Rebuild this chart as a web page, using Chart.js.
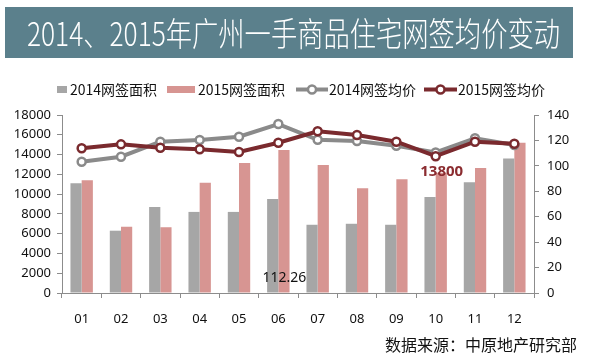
<!DOCTYPE html>
<html>
<head>
<meta charset="utf-8">
<script src="https://cdn.jsdelivr.net/npm/chart.js@4/dist/chart.umd.min.js"></script>
<style>
html,body{margin:0;padding:0;background:#fff;}
#wrap{position:relative;width:593px;height:353px;}
</style>
</head>
<body>
<div id="wrap"><canvas id="c" width="593" height="353"></canvas></div>
<script>
// ---- data ----
const titleText = '2014、2015年广州一手商品住宅网签均价变动';
const sourceText = '数据来源：中原地产研究部';
const months = ['01','02','03','04','05','06','07','08','09','10','11','12'];
const area2014 = [11100, 6300, 8700, 8200, 8200, 9500, 6900, 7000, 6900, 9700, 11200, 13600];
const area2015 = [11400, 6700, 6650, 11150, 13150, 14450, 12950, 10600, 11500, 12150, 12650, 15200];
const price2014 = [103.2, 107.2, 119.0, 120.3, 122.9, 132.9, 120.5, 119.5, 115.8, 110.6, 121.7, 116.4];
const price2015 = [113.8, 116.9, 114.3, 113.0, 110.9, 118.2, 127.2, 124.3, 119.0, 107.6, 119.0, 117.4];
const seriesNames = ['2014网签面积','2015网签面积','2014网签均价','2015网签均价'];
const leftTicks = {min:0, max:18000, step:2000};
const rightTicks = {min:0, max:140, step:20};
// annotation texts: [text, month index, left-axis value]
const noteLabels = [['112.26', 5, 1500], ['13800', 9, 12250]];

const FONT = '"Noto Sans", "Liberation Sans", sans-serif';
const CJK = '"Noto Sans CJK SC", "Noto Sans", sans-serif';
const C_GRAY_BAR = '#a6a6a6';
const C_PINK_BAR = '#d79592';
const C_GRAY_LINE = '#8a8a8a';
const C_RED_LINE = '#7a2a2e';
const C_AXIS = '#8c8c8c';

const decor = {
  id: 'decor',
  beforeDraw(chart) {
    const ctx = chart.ctx;
    ctx.save();
    ctx.fillStyle = '#ffffff';
    ctx.fillRect(0, 0, chart.width, chart.height);
    // title banner
    ctx.fillStyle = '#5b808c';
    ctx.fillRect(5, 7, 568, 51);
    ctx.fillStyle = '#ffffff';
    ctx.font = '300 33px ' + CJK;
    ctx.textBaseline = 'middle';
    ctx.textAlign = 'left';
    const w = ctx.measureText(titleText).width;
    ctx.translate(27, 33);
    ctx.scale(533 / w, 1);
    ctx.fillText(titleText, 0, 0);
    ctx.restore();
  },
  afterDraw(chart) {
    const ctx = chart.ctx;
    const ds = chart.data.datasets;
    ctx.save();
    // legend
    const cy = 89.5;
    const items = [
      {sx:57, sw:10, tx:70, kind:'bar'},
      {sx:167, sw:28, tx:198, kind:'bar'},
      {sx:296, sw:32, tx:329, kind:'line'},
      {sx:424, sw:33, tx:458, kind:'line'}
    ];
    ctx.font = '14px ' + CJK;
    ctx.textBaseline = 'middle';
    ctx.textAlign = 'left';
    items.forEach((it, i) => {
      const d = ds[i];
      if (it.kind === 'bar') {
        ctx.fillStyle = d.backgroundColor;
        ctx.fillRect(it.sx, cy - 3.5, it.sw, 7);
      } else {
        ctx.strokeStyle = d.borderColor;
        ctx.lineWidth = 4;
        ctx.beginPath();
        ctx.moveTo(it.sx, cy);
        ctx.lineTo(it.sx + it.sw, cy);
        ctx.stroke();
        ctx.beginPath();
        ctx.arc(it.sx + it.sw / 2, cy, 4, 0, Math.PI * 2);
        ctx.fillStyle = '#fff';
        ctx.fill();
        ctx.lineWidth = 2.5;
        ctx.stroke();
      }
      ctx.fillStyle = '#111';
      ctx.fillText(d.label, it.tx, cy);
    });
    // annotations
    const xs = chart.scales.x, yl = chart.scales.yL;
    noteLabels.forEach((n, i) => {
      const x = xs.getPixelForValue(n[1]) + 6;
      const y = yl.getPixelForValue(n[2]);
      ctx.textAlign = 'center';
      if (i === 0) { ctx.font = '14px ' + FONT; ctx.fillStyle = '#111'; }
      else { ctx.font = 'bold 15px ' + FONT; ctx.fillStyle = '#8b2c30'; }
      ctx.fillText(n[0], x, y);
    });
    // source
    ctx.font = '16px ' + CJK;
    ctx.fillStyle = '#111';
    ctx.textAlign = 'right';
    ctx.fillText(sourceText, 577, 345);
    ctx.restore();
  }
};

new Chart(document.getElementById('c'), {
  data: {
    labels: months,
    datasets: [
      {type:'bar', label:seriesNames[0], data:area2014, backgroundColor:C_GRAY_BAR, yAxisID:'yL', order:3, barPercentage:1, categoryPercentage:0.57},
      {type:'bar', label:seriesNames[1], data:area2015, backgroundColor:C_PINK_BAR, yAxisID:'yL', order:3, barPercentage:1, categoryPercentage:0.57},
      {type:'line', label:seriesNames[2], data:price2014, borderColor:C_GRAY_LINE, backgroundColor:'#fff', borderWidth:4, pointRadius:4, pointBorderWidth:2.5, pointBackgroundColor:'#fff', pointBorderColor:C_GRAY_LINE, yAxisID:'yR', order:2, tension:0},
      {type:'line', label:seriesNames[3], data:price2015, borderColor:C_RED_LINE, backgroundColor:'#fff', borderWidth:4, pointRadius:4, pointBorderWidth:2.5, pointBackgroundColor:'#fff', pointBorderColor:C_RED_LINE, yAxisID:'yR', order:1, tension:0}
    ]
  },
  options: {
    responsive:false,
    animation:false,
    devicePixelRatio:1,
    layout:{padding:{top:115, left:0, right:0, bottom:0}},
    plugins:{legend:{display:false}, title:{display:false}, tooltip:{enabled:false}},
    scales:{
      x:{
        offset:true,
        grid:{offset:true, drawOnChartArea:false, tickLength:5, color:C_AXIS, lineWidth:1},
        border:{color:C_AXIS, width:1},
        ticks:{color:'#111', font:{size:13, family:FONT}, padding:13, maxRotation:0},
        afterFit(s){ s.height = 60; }
      },
      yL:{
        position:'left', min:leftTicks.min, max:leftTicks.max,
        grid:{drawOnChartArea:false, tickLength:5, color:C_AXIS},
        border:{color:C_AXIS, width:1},
        ticks:{stepSize:leftTicks.step, color:'#111', font:{size:13, family:FONT}, padding:6, callback:(v)=>String(v)},
        afterFit(s){ s.width = 62; }
      },
      yR:{
        position:'right', min:rightTicks.min, max:rightTicks.max,
        grid:{drawOnChartArea:false, tickLength:5, color:C_AXIS},
        border:{color:C_AXIS, width:1},
        ticks:{stepSize:rightTicks.step, color:'#111', font:{size:13, family:FONT}, padding:8, callback:(v)=>String(v)},
        afterFit(s){ s.width = 59; }
      }
    }
  },
  plugins:[decor]
});
</script>
</body>
</html>
